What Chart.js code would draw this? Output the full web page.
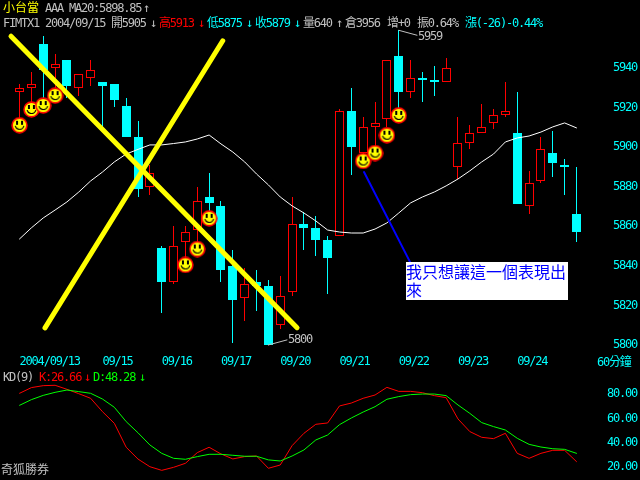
<!DOCTYPE html>
<html>
<head>
<meta charset="utf-8">
<title>小台當</title>
<script src="https://cdn.jsdelivr.net/npm/chart.js@4"></script>
<style>
  html, body { margin: 0; padding: 0; background: #000; width: 640px; height: 480px; overflow: hidden; }
  canvas { position: absolute; left: 0; }
  #priceChart { top: 0; }
  #kdChart { top: 365px; }
  .t { position: absolute; white-space: nowrap; font: 12px "DejaVu Sans Mono", "Noto Sans CJK TC", monospace; letter-spacing: -1.2px; line-height: 14px; color: #c0c0c0; }
  .w { letter-spacing: 0; }
  .y { color: #ffff00; } .r { color: #ff0000; } .c { color: #00ffff; } .g { color: #00ff00; }
  #note { position: absolute; left: 406px; top: 262px; width: 162px; height: 38px; background: #fff; color: #0000ff; font: 16px/18px "Noto Sans CJK TC", sans-serif; word-break: break-all; }
</style>
</head>
<body>
<canvas id="priceChart" width="640" height="372"></canvas>
<canvas id="kdChart" width="640" height="115"></canvas>

<span class="t y w" style="left:3px;top:1px">小台當</span>
<span class="t" style="left:45px;top:1px">AAA</span>
<span class="t" style="left:69px;top:1px">MA20:5898.85</span>
<span class="t" style="left:143px;top:1px">↑</span>
<span class="t" style="left:3px;top:16px">FIMTX1</span>
<span class="t" style="left:45px;top:16px">2004/09/15</span>
<span class="t" style="left:111px;top:16px">開5905</span>
<span class="t" style="left:150px;top:16px">↓</span>
<span class="t r" style="left:159px;top:16px">高5913</span>
<span class="t r" style="left:198px;top:16px">↓</span>
<span class="t c" style="left:207px;top:16px">低5875</span>
<span class="t c" style="left:246px;top:16px">↓</span>
<span class="t c" style="left:255px;top:16px">收5879</span>
<span class="t c" style="left:294px;top:16px">↓</span>
<span class="t" style="left:303px;top:16px">量640</span>
<span class="t" style="left:336px;top:16px">↑</span>
<span class="t" style="left:345px;top:16px">倉3956</span>
<span class="t" style="left:387px;top:16px">增+0</span>
<span class="t" style="left:417px;top:16px">振0.64%</span>
<span class="t c" style="left:465px;top:16px">漲(-26)-0.44%</span>
<span class="t" style="left:418px;top:29px">5959</span>
<span class="t" style="left:288px;top:332px">5800</span>
<span class="t c" style="left:597px;top:355px">60分鐘</span>
<span class="t" style="left:3px;top:370px">KD(9)</span>
<span class="t r" style="left:39px;top:370px">K:26.66</span>
<span class="t r" style="left:84px;top:370px">↓</span>
<span class="t g" style="left:93px;top:370px">D:48.28</span>
<span class="t g" style="left:139px;top:370px">↓</span>
<span class="t w" style="left:1px;top:463px">奇狐勝券</span>
<div id="note">我只想讓這一個表現出來</div>

<script>
var candleOpen = [5928,5930,5952,5940,5944,5930,5935,5933,5932,5921,5905,5880,5849,5832,5852,5858,5875,5870,5840,5824,5832,5830,5810,5827,5861,5859,5853,5855,5918,5897,5910,5914,5946,5928,5935,5934,5933,5890,5902,5907,5912,5916,5907,5870,5883,5897,5891,5866];
var candleHigh = [5932,5938,5956,5947,5944,5937,5944,5933,5932,5925,5913,5891,5850,5860,5860,5880,5887,5873,5848,5839,5838,5833,5835,5875,5867,5865,5855,5919,5930,5915,5923,5944,5959,5944,5938,5941,5945,5915,5911,5922,5919,5933,5928,5888,5905,5908,5894,5890];
var candleLow = [5914,5921,5925,5930,5925,5926,5931,5910,5920,5905,5875,5876,5816,5831,5844,5851,5867,5832,5801,5812,5817,5800,5808,5825,5848,5845,5826,5855,5886,5891,5900,5910,5919,5925,5923,5926,5933,5884,5899,5907,5909,5915,5871,5866,5882,5885,5876,5852];
var candleClose = [5930,5932,5939,5942,5931,5937,5939,5931,5924,5905,5879,5887,5832,5850,5857,5873,5872,5838,5823,5831,5830,5800,5825,5861,5859,5853,5844,5918,5900,5910,5912,5944,5928,5935,5934,5933,5940,5902,5907,5910,5916,5918,5871,5882,5899,5892,5890,5857];
var ma20 = [5853.6,5859.2,5864.2,5868.2,5872.3,5877.3,5882.9,5887.4,5892.5,5896.5,5898.85,5901.1,5901.1,5901.8,5902.6,5904.1,5906.1,5901.6,5897.5,5892.5,5886.4,5880.9,5874.8,5870.3,5866.7,5862.7,5858.1,5857.1,5856.6,5856.6,5858.6,5861.7,5866.7,5871.8,5874.8,5877.3,5880.4,5883.9,5888,5892.5,5896.5,5902.6,5904.6,5905.6,5907.6,5910.2,5912.2,5909.7];
var kValues = [80.8,85.5,87.1,87.4,84.1,80.5,76.7,65.7,56.1,36.4,26.66,20.4,17.4,19.9,23.2,32,36.4,30.9,26.8,28.7,29.2,19.1,21.8,37.7,47.9,55.3,56.4,70.4,72.8,76.7,79.4,85.7,82.4,82.4,81.3,78.9,77.2,59.7,49.3,44.6,43.5,47.9,31.4,27.3,31.4,33.9,33.9,24.6];
var dValues = [70.9,75.6,79.1,81.6,83.5,82.2,80.8,76.1,69.3,57.5,48.28,38.3,31.4,27.3,26.5,28.7,30.6,30.6,29.8,29,29,26,25.1,29.2,34.2,42.4,46.5,55,60.5,65.4,69.8,75.9,78.1,79.7,80.2,80.2,78.9,71.2,64.3,56.7,53.4,50.6,43.8,38.8,36.6,35.2,34.7,31.4];

var dateCandles = [0,7,12,17,22,27,32,37,42];
var dateLabels = ["2004/09/13","09/15","09/16","09/17","09/20","09/21","09/22","09/23","09/24"];
var priceTicks = [5800,5820,5840,5860,5880,5900,5920,5940];
var kdTicks = [20,40,60,80];

var smileyCandles = [0,1,2,3,14,15,16,29,30,31,32];
var smileyPrices = [5911,5919,5921,5926,5840.5,5848.5,5864,5893,5897,5906,5916];

// hand drawn lines on top of the chart, in candle index / price
var yellowLine1 = [{x:-0.72,y:5956},{x:23.42,y:5808.8}];
var yellowLine2 = [{x:17.15,y:5953.7},{x:2.15,y:5808.7}];
var blueLine = [{x:29.07,y:5887.4},{x:32.95,y:5842}];
var highCallout = [{x:32,y:5959},{x:33.54,y:5956.5}];
var lowCallout = [{x:20.97,y:5800},{x:22.57,y:5802.6}];

var RED = "#ff0000", CYAN = "#00ffff";

function candleColor(i) {
  return candleClose[i] >= candleOpen[i] ? RED : CYAN;
}
function series(values) {
  return values.map(function (v, i) { return { x: i, y: v }; });
}
function lineSet(data, color, width, order) {
  return {
    type: "line", data: data, order: order, borderColor: color, borderWidth: width,
    pointRadius: 0, tension: 0, fill: false, borderCapStyle: "round"
  };
}
function makeSmiley() {
  var c = document.createElement("canvas");
  c.width = 17; c.height = 17;
  var g = c.getContext("2d");
  g.beginPath(); g.arc(8.5, 8.5, 7.4, 0, Math.PI * 2);
  g.fillStyle = "#ffff00"; g.fill();
  g.lineWidth = 1.6; g.strokeStyle = RED; g.stroke();
  g.fillStyle = "#000";
  g.fillRect(5, 4, 2, 4); g.fillRect(10, 4, 2, 4);
  g.beginPath(); g.arc(8.5, 8, 4.5, 0.25, Math.PI - 0.25);
  g.lineWidth = 1.2; g.strokeStyle = "#000"; g.stroke();
  return c;
}
function fixedTicks(values) {
  return function (scale) {
    scale.ticks = values.map(function (v) { return { value: v }; });
  };
}
// fixed axis box, and no label padding eating into the plot area
function fixedBox(width, height) {
  return function (scale) {
    if (width !== null) scale.width = width;
    if (height !== null) scale.height = height;
    scale.paddingTop = scale.paddingBottom = scale.paddingLeft = scale.paddingRight = 0;
  };
}

// the screen font is narrow, squeeze the tick labels like the html ones
var narrowText = {
  id: "narrowText",
  beforeDraw: function (chart) { chart.ctx.letterSpacing = "-1.2px"; }
};
// snap candles to whole pixels so wicks stay 1px wide
var crispBars = {
  id: "crispBars",
  afterDatasetsUpdate: function (chart) {
    chart.getSortedVisibleDatasetMetas().forEach(function (meta) {
      if (meta.type !== "bar") return;
      meta.data.forEach(function (el) {
        el.x = Math.floor(el.x) + 0.5;
        el.y = Math.round(el.y);
        el.base = Math.round(el.base);
      });
    });
  }
};

Chart.defaults.font.family = '"DejaVu Sans Mono", monospace';
Chart.defaults.font.size = 12;
var AXIS_W = 50, X_MIN = -1.648, X_MAX = 48.14;
var noGrid = { display: false, drawTicks: false };

new Chart(document.getElementById("priceChart"), {
  type: "bar",
  plugins: [narrowText, crispBars],
  data: {
    datasets: [
      {
        type: "line", data: smileyCandles.map(function (c, i) { return { x: c, y: smileyPrices[i] }; }),
        order: 0, showLine: false, pointStyle: makeSmiley(), pointRadius: 8
      },
      lineSet(yellowLine1, "#ffff00", 5, 1),
      lineSet(yellowLine2, "#ffff00", 5, 1),
      lineSet(blueLine, "#0000ff", 2, 2),
      lineSet(highCallout, "#c0c0c0", 1, 3),
      lineSet(lowCallout, "#c0c0c0", 1, 3),
      lineSet(series(ma20), "#ffffff", 1, 4),
      {
        data: candleOpen.map(function (o, i) { return { x: i, y: [o, candleClose[i]] }; }),
        order: 5, barThickness: 9, borderWidth: 1, borderSkipped: false, inflateAmount: 0,
        borderColor: function (ctx) { return candleColor(ctx.dataIndex); },
        backgroundColor: function (ctx) { return candleClose[ctx.dataIndex] >= candleOpen[ctx.dataIndex] ? "#000000" : CYAN; }
      },
      {
        data: candleLow.map(function (l, i) { return { x: i, y: [l, candleHigh[i]] }; }),
        order: 6, barThickness: 1, borderWidth: 0, inflateAmount: 0,
        backgroundColor: function (ctx) { return candleColor(ctx.dataIndex); }
      }
    ]
  },
  options: {
    responsive: false,
    animation: false,
    devicePixelRatio: 1,
    datasets: { bar: { grouped: false } },
    layout: { padding: 0, autoPadding: false },
    plugins: { legend: { display: false }, tooltip: { enabled: false } },
    scales: {
      x: {
        type: "linear", min: X_MIN, max: X_MAX, offset: false,
        grid: noGrid, border: { display: false },
        afterBuildTicks: fixedTicks(dateCandles),
        afterFit: fixedBox(null, 22),
        ticks: {
          color: CYAN, align: "start", autoSkip: false, maxRotation: 0, padding: 5,
          callback: function (v) { return dateLabels[dateCandles.indexOf(v)]; }
        }
      },
      y: {
        position: "right", min: 5797.5, max: 5974.3,
        grid: noGrid, border: { display: false },
        afterBuildTicks: fixedTicks(priceTicks),
        afterFit: fixedBox(AXIS_W, null),
        ticks: {
          color: CYAN, padding: 23, autoSkip: false,
          callback: function (v) { return String(v); }
        }
      }
    }
  }
});

new Chart(document.getElementById("kdChart"), {
  type: "line",
  plugins: [narrowText],
  data: {
    datasets: [
      lineSet(series(dValues), "#00ff00", 1, 0),
      lineSet(series(kValues), RED, 1, 1)
    ]
  },
  options: {
    responsive: false,
    animation: false,
    devicePixelRatio: 1,
    layout: { padding: 0, autoPadding: false },
    plugins: { legend: { display: false }, tooltip: { enabled: false } },
    scales: {
      x: {
        type: "linear", min: X_MIN, max: X_MAX,
        grid: noGrid, border: { display: false },
        ticks: { display: false },
        afterFit: fixedBox(null, 0)
      },
      y: {
        position: "right", min: 9.46, max: 104.1,
        grid: noGrid, border: { display: false },
        afterBuildTicks: fixedTicks(kdTicks),
        afterFit: fixedBox(AXIS_W, null),
        ticks: {
          color: CYAN, padding: 17, autoSkip: false,
          callback: function (v) { return v.toFixed(2); }
        }
      }
    }
  }
});
</script>
</body>
</html>
